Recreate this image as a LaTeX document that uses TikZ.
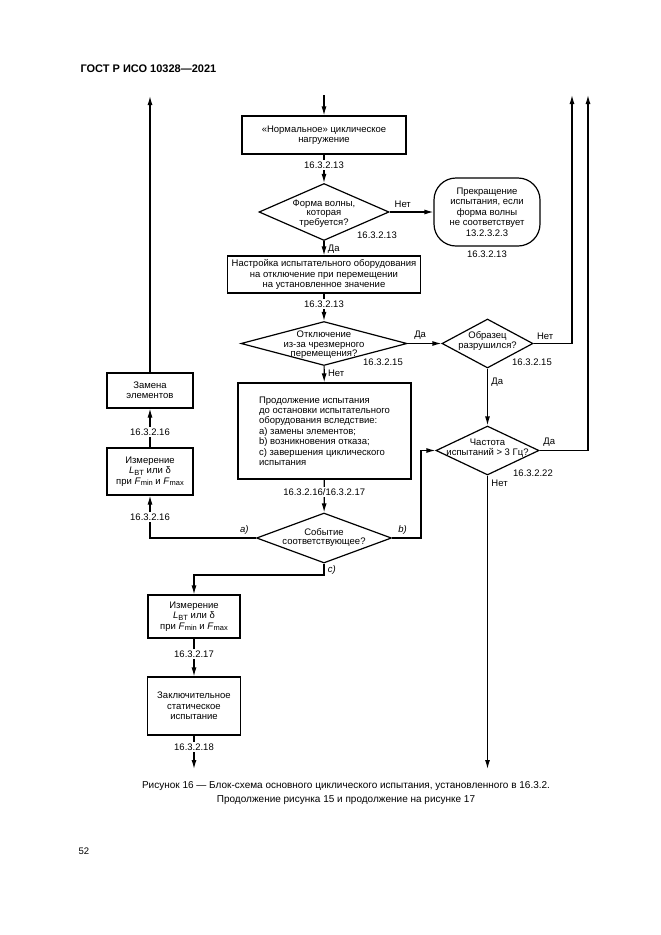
\documentclass[tikz,border=0pt]{standalone}
\usepackage{fontspec}
\setmainfont{Liberation Sans}
\usetikzlibrary{shapes.geometric,arrows.meta}

\newcommand{\lowidx}[1]{\raisebox{-0.35ex}{\fontsize{7.5}{8}\selectfont #1}}

\tikzset{
  box/.style={draw,line width=1.2pt,align=center,inner sep=2pt},
  dia/.style={draw,diamond,line width=1.2pt,inner sep=0pt},
  term/.style={draw,line width=1.2pt,rounded corners=22pt,align=center},
  txt/.style={align=center,inner sep=0pt,font=\fontsize{9.5}{9.6}\selectfont},
  ref/.style={fill=white,inner sep=1.5pt},
  flow/.style={line width=1.2pt,-{Latex[length=9pt,width=5pt]}},
}

\begin{document}
\begin{tikzpicture}[x=1pt,y=-1pt,font=\fontsize{9.5}{10.4}\selectfont]
\useasboundingbox (0,0) rectangle (661,935);

\node[anchor=west,font=\fontsize{11}{12}\selectfont\bfseries] (hdr) at (77,69) {ГОСТ Р ИСО 10328—2021};

% main column
\coordinate (in) at (324,95);
\node[box,minimum width=164pt,minimum height=38pt] (b1) at (324,135) {«Нормальное» циклическое\\нагружение};
\node[dia,minimum width=130pt,minimum height=57pt] (d1) at (324,212) {};
\node[txt] (d1t) at (324,213.5) {Форма волны,\\которая\\требуется?};
\node[term,minimum width=106pt,minimum height=68pt] (t1) at (487,212) {Прекращение\\испытания, если\\форма волны\\не соответствует\\13.2.3.2.3};
\node (t1r) at (487,254) {16.3.2.13};
\node (d1r) at (377,235) {16.3.2.13};
\node[box,minimum width=193pt,minimum height=37pt] (b2) at (324,274.5) {Настройка испытательного оборудования\\на отключение при перемещении\\на установленное значение};
\node[dia,minimum width=166pt,minimum height=44pt] (d2) at (324,343.5) {};
\node[txt] (d2t) at (324,345) {Отключение\\из-за чрезмерного\\перемещения?};
\node (d2r) at (383,362) {16.3.2.15};
\node[box,align=left,minimum width=173pt,minimum height=96pt] (b3) at (324.5,431) {Продолжение испытания\\до остановки испытательного\\оборудования вследствие:\\а) замены элементов;\\b) возникновения отказа;\\с) завершения циклического\\испытания};
\node[dia,minimum width=135pt,minimum height=50pt] (d5) at (324,538) {};
\node[txt] (d5t) at (324,537.5) {Событие\\соответствующее?};

% right column
\node[dia,minimum width=91pt,minimum height=49pt] (d3) at (487.5,343.5) {};
\node[txt] (d3t) at (487.5,341) {Образец\\разрушился?};
\node (d3r) at (532,362) {16.3.2.15};
\node[dia,minimum width=103pt,minimum height=49pt] (d4) at (487.5,450.5) {};
\node[txt] (d4t) at (487.5,448) {Частота\\испытаний > 3 Гц?};
\node (d4r) at (533,473) {16.3.2.22};
\coordinate (o1) at (572,95);
\coordinate (o2) at (588,95);
\coordinate (o3) at (487.5,769);
\coordinate (rb) at (421,0);

% left column
\node[box,minimum width=86pt,minimum height=35pt] (zam) at (150,390.5) {Замена\\элементов};
\node[box,minimum width=86pt,minimum height=47pt] (mz1) at (150,471.5) {Измерение\\\textit{L}\lowidx{BT} или δ\\при \textit{F}\lowidx{min} и \textit{F}\lowidx{max}};
\coordinate (o4) at (150,96);
\coordinate (cj) at (324,575);
\node[box,minimum width=92pt,minimum height=43pt] (mz2) at (194,616.5) {Измерение\\\textit{L}\lowidx{BT} или δ\\при \textit{F}\lowidx{min} и \textit{F}\lowidx{max}};
\node[box,minimum width=93pt,minimum height=58pt] (fin) at (194,706) {Заключительное\\статическое\\испытание};
\coordinate (o5) at (194,769);

\draw[flow] (in) -- (b1);
\draw[flow] (b1) -- node[ref,pos=.38] (r1) {16.3.2.13} (d1);
\draw[flow] (d1) -- node[above,pos=.3] {Нет} (t1);
\draw[flow] (d1) -- node[pos=0,anchor=north west] {Да} (b2);
\draw[flow] (b2) -- node[ref,pos=.38] (r2) {16.3.2.13} (d2);
\draw[flow] (d2) -- node[above,pos=.37] {Да} (d3);
\draw[flow] (d2) -- node[pos=0,anchor=north west] {Нет} (b3);
\draw[flow] (d3.east) -- node[above,pos=.3] {Нет} (d3.east -| o1) -- (o1);
\draw[flow] (d3) -- node[pos=.1,anchor=north west] {Да} (d4);
\draw[flow] (d4.east) -- node[above,pos=.2] {Да} (d4.east -| o2) -- (o2);
\draw[flow] (d4.south) -- node[pos=0,anchor=north west] {Нет} (o3);
\draw[flow] (b3) -- node[ref,pos=.38] (r3) {16.3.2.16/16.3.2.17} (d5);
\draw[flow] (d5.west) -- node[above,pos=.11] {\textit{a)}} (d5.west -| mz1) -- node[ref] (r4) {16.3.2.16} (mz1);
\draw[flow] (mz1) -- node[ref,pos=.4] (r5) {16.3.2.16} (zam);
\draw[flow] (zam) -- (o4);
\draw[flow] (d5.east) -- node[above,pos=.36] {\textit{b)}} (d5.east -| rb) -- (d4.west -| rb) -- (d4.west);
\draw[flow] (d5.south) -- node[right,pos=.55] {\textit{c)}} (cj) -| (mz2);
\draw[flow] (mz2) -- node[ref,pos=.41] (r6) {16.3.2.17} (fin);
\draw[flow] (fin) -- node[ref,pos=.35] (r7) {16.3.2.18} (o5);

\node[align=center,font=\fontsize{10}{14}\selectfont] (cap) at (346,793) {Рисунок 16 — Блок-схема основного циклического испытания, установленного в 16.3.2.\\Продолжение рисунка 15 и продолжение на рисунке 17};
\node (pg) at (84,851) {52};
\end{tikzpicture}
\end{document}
